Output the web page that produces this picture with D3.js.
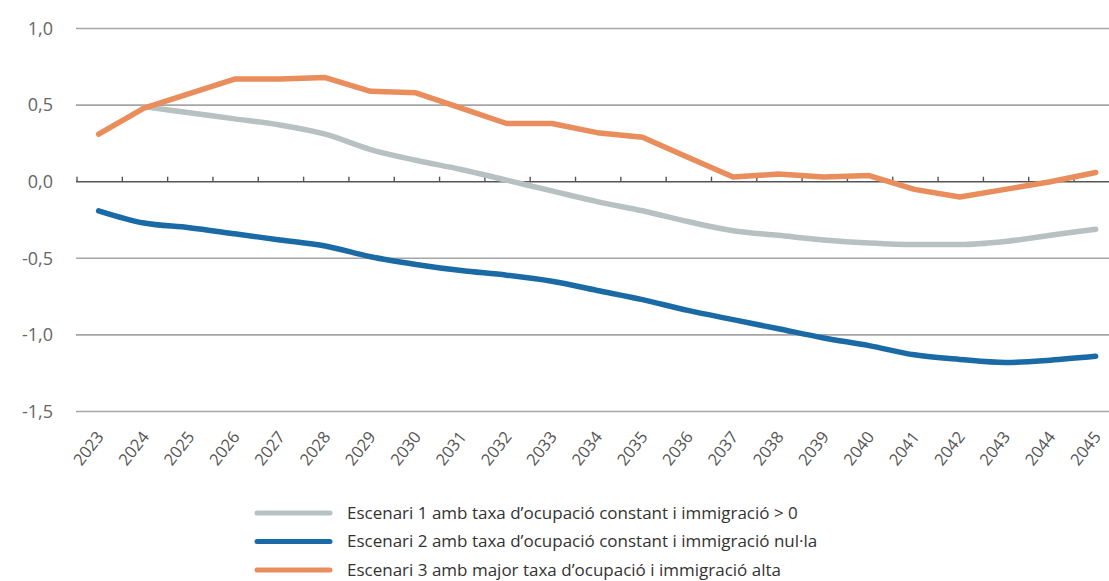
<!DOCTYPE html>
<html><head><meta charset="utf-8">
<script src="https://cdn.jsdelivr.net/npm/d3@7"></script>
<style>
body{margin:0;background:#fff;}
text{font-family:"Open Sans","Noto Sans",sans-serif;}
</style></head>
<body><svg id="c" width="1109" height="581"></svg>
<script>
const years = ["2023","2024","2025","2026","2027","2028","2029","2030","2031","2032","2033","2034","2035","2036","2037","2038","2039","2040","2041","2042","2043","2044","2045"];
const escenari1 = [null,0.49,0.45,0.41,0.37,0.31,0.21,0.14,0.08,0.01,-0.06,-0.13,-0.19,-0.26,-0.32,-0.35,-0.38,-0.40,-0.41,-0.41,-0.39,-0.35,-0.31];
const escenari2 = [-0.19,-0.27,-0.30,-0.34,-0.38,-0.42,-0.49,-0.54,-0.58,-0.61,-0.65,-0.71,-0.77,-0.84,-0.90,-0.96,-1.02,-1.07,-1.13,-1.16,-1.18,-1.165,-1.14];
const escenari3 = [0.31,0.48,0.575,0.67,0.67,0.68,0.59,0.58,0.48,0.38,0.38,0.32,0.29,0.16,0.03,0.05,0.03,0.04,-0.05,-0.10,-0.05,0.0,0.06];
const yTicks = [1.0,0.5,0.0,-0.5,-1.0,-1.5];
const legendLabels = [
 "Escenari 1 amb taxa d\u2019ocupació constant i immigració > 0",
 "Escenari 2 amb taxa d\u2019ocupació constant i immigració nul·la",
 "Escenari 3 amb major taxa d\u2019ocupació i immigració alta"];
const colors = ["#b8c1c1","#1a6aa5","#ea8d5d"];

const svg = d3.select("#c");
const x = d3.scaleBand().domain(years).range([76, 76 + 45.32*23]).padding(0);
const y = d3.scaleLinear().domain([-1.5,1.0]).range([411.5, 28.5]);
const cx = d => x(d) + x.bandwidth()/2;

// gridlines
svg.append("g").selectAll("line").data(yTicks.filter(v=>v!==0)).join("line")
 .attr("x1",76).attr("x2",1109).attr("y1",d=>y(d)).attr("y2",d=>y(d))
 .attr("stroke","#a6a6a6").attr("stroke-width",1.6);

// y labels
svg.append("g").selectAll("text").data(yTicks).join("text")
 .attr("x",53).attr("y",d=>y(d)).attr("dy","0.35em").attr("text-anchor","end")
 .attr("font-size",18).attr("fill","#666")
 .text(d=>d3.format(".1f")(d).replace(".",",").replace("\u2212","-"));

// zero axis with upward ticks
const ax = svg.append("g").attr("transform",`translate(0,${y(0)})`);
ax.append("line").attr("x1",76).attr("x2",1109).attr("y1",0).attr("y2",0).attr("stroke","#555").attr("stroke-width",1.6);
ax.selectAll("line.tk").data(years).join("line").attr("class","tk")
 .attr("x1",d=>x(d)+1).attr("x2",d=>x(d)+1).attr("y1",0).attr("y2",-5)
 .attr("stroke","#555").attr("stroke-width",1.4);

// x labels
svg.append("g").selectAll("text").data(years).join("text")
 .attr("transform",d=>`translate(${cx(d)+6},${437}) rotate(-52)`)
 .attr("text-anchor","end").attr("font-size",16.5).attr("fill","#555")
 .text(d=>d);

// lines
const series = [escenari1, escenari2, escenari3];
const curves = [d3.curveMonotoneX, d3.curveMonotoneX, d3.curveLinear];
series.forEach((s,i)=>{
  const line = d3.line().defined(d=>d[1]!==null).x(d=>cx(d[0])).y(d=>y(d[1])).curve(curves[i]);
  svg.append("path").datum(years.map((yr,j)=>[yr,s[j]]))
   .attr("d",line).attr("fill","none").attr("stroke",colors[i])
   .attr("stroke-width",5.5).attr("stroke-linejoin","round").attr("stroke-linecap","round");
});

// legend
const lg = svg.append("g");
legendLabels.forEach((t,i)=>{
  const yy = 513 + i*28.5;
  lg.append("line").attr("x1",257).attr("x2",330).attr("y1",yy).attr("y2",yy)
    .attr("stroke",colors[i]).attr("stroke-width",5).attr("stroke-linecap","round");
  lg.append("text").attr("x",347).attr("y",yy).attr("dy","0.35em")
    .attr("font-size",17).attr("fill","#333").text(t);
});
</script></body></html>
